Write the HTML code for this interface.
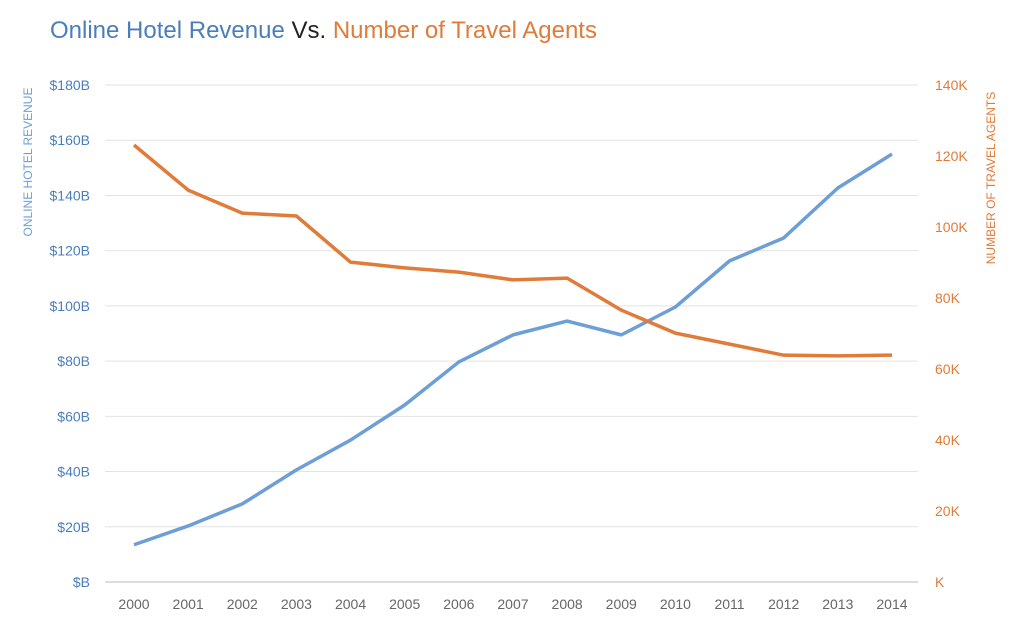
<!DOCTYPE html>
<html><head><meta charset="utf-8">
<style>
body{margin:0;background:#fff;font-family:"Liberation Sans",sans-serif;}
svg{display:block}
</style></head>
<body>
<svg id="chart" width="1024" height="630">
<text x="50" y="38" font-size="24"><tspan fill="#4a7ebb">Online Hotel Revenue</tspan><tspan fill="#222"> Vs. </tspan><tspan fill="#e07b39">Number of Travel Agents</tspan></text>
<text transform="translate(32,162) rotate(-90)" text-anchor="middle" font-size="12" fill="#6d9fd6">ONLINE HOTEL REVENUE</text>
<text transform="translate(995,178) rotate(-90)" text-anchor="middle" font-size="12" fill="#e07b39">NUMBER OF TRAVEL AGENTS</text>
<g id="grid"></g><g id="axes"></g><g id="series"></g>
</svg>
<script>
const years=["2000","2001","2002","2003","2004","2005","2006","2007","2008","2009","2010","2011","2012","2013","2014"];
const revenue=[13.5,20.3,28.3,40.6,51.4,64.1,79.7,89.5,94.5,89.5,99.6,116.3,124.6,142.7,155];
const agents=[123.1,110.4,103.9,103.1,90.1,88.5,87.3,85.1,85.6,76.6,70.1,67,63.9,63.7,63.9];
const leftTicks=[0,20,40,60,80,100,120,140,160,180];
const leftLabels=["$B","$20B","$40B","$60B","$80B","$100B","$120B","$140B","$160B","$180B"];
const rightTicks=[0,20,40,60,80,100,120,140];
const rightLabels=["K","20K","40K","60K","80K","100K","120K","140K"];
const NS="http://www.w3.org/2000/svg";
const plotTop=85,plotBot=582,x0=134,dx=54.14,plotLeft=105,plotRight=918;
const xS=i=>x0+i*dx;
const yL=v=>plotBot-(v/180)*(plotBot-plotTop);
const yR=v=>plotBot-(v/140)*(plotBot-plotTop);
function mk(tag,attrs,parent,txt){const e=document.createElementNS(NS,tag);for(const k in attrs)e.setAttribute(k,attrs[k]);if(txt!==undefined)e.textContent=txt;document.getElementById(parent).appendChild(e);return e;}
leftTicks.forEach((t,i)=>{
  const l=mk("line",{x1:plotLeft,x2:plotRight,y1:yL(t),y2:yL(t),stroke:t===0?"#bbb":"#e3e3e3","stroke-width":1},"grid");
  
  
  const tx=mk("text",{x:90,y:yL(t)+5,"text-anchor":"end","font-size":14,fill:"#4a7ebb"},"axes",leftLabels[i]);
  
  
});
rightTicks.forEach((t,i)=>{
  const tx=mk("text",{x:935,y:yR(t)+5,"font-size":14,fill:"#e07b39"},"axes",rightLabels[i]);
  
  
});
years.forEach((y,i)=>{
  const tx=mk("text",{x:xS(i),y:609,"text-anchor":"middle","font-size":14,fill:"#666"},"axes",y);
  
  
});
const p1=mk("polyline",{points:revenue.map((v,i)=>xS(i)+","+yL(v)).join(" "),fill:"none",stroke:"#6d9fd6","stroke-width":3.5,"stroke-linejoin":"round"},"series");


const p2=mk("polyline",{points:agents.map((v,i)=>xS(i)+","+yR(v)).join(" "),fill:"none",stroke:"#e07b39","stroke-width":3.5,"stroke-linejoin":"round"},"series");


</script>
</body></html>
